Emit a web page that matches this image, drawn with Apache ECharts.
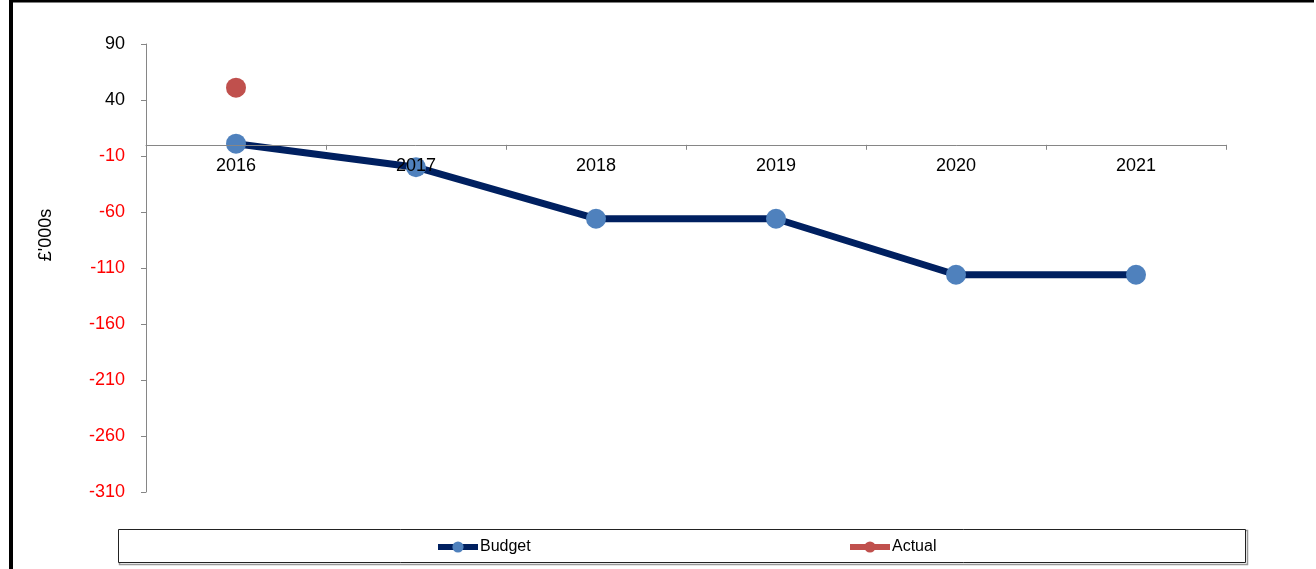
<!DOCTYPE html>
<html>
<head>
<meta charset="utf-8">
<script src="https://cdn.jsdelivr.net/npm/echarts@6/dist/echarts.min.js"></script>
<style>
html,body{margin:0;padding:0;background:#fff;}
#chart{width:1316px;height:569px;}
</style>
</head>
<body>
<div id="chart"></div>
<script>
var categories = ['2016', '2017', '2018', '2019', '2020', '2021'];
var budget = [1, -20, -66, -66, -116, -116];
var actual = [51, null, null, null, null, null];
var yMin = -310, yMax = 90, yStep = 50;
var yAxisTitle = "£'000s";

var FONT = "'Liberation Sans', Arial, sans-serif";
var GRID_TOP = 44, GRID_BOTTOM = 77, H = 569;
var gridH = H - GRID_TOP - GRID_BOTTOM;
var zeroOffset = (0 - yMin) / (yMax - yMin) * gridH;

var chart = echarts.init(document.getElementById('chart'), null, {renderer: 'canvas'});
chart.setOption({
  animation: false,
  backgroundColor: '#fff',
  grid: {left: 146, top: GRID_TOP, right: 90, bottom: GRID_BOTTOM, containLabel: false},
  xAxis: {
    type: 'category',
    data: categories,
    boundaryGap: true,
    position: 'bottom',
    offset: -zeroOffset,
    z: 5,
    axisLine: {onZero: false, lineStyle: {color: '#868686', width: 1}},
    axisTick: {show: true, interval: 0, length: 5, lineStyle: {color: '#868686'}},
    axisLabel: {margin: 12, color: '#000', fontSize: 18, fontFamily: FONT, interval: 0},
    splitLine: {show: false}
  },
  yAxis: {
    type: 'value',
    min: yMin, max: yMax, interval: yStep,
    axisLine: {show: true, onZero: false, lineStyle: {color: '#868686', width: 1}},
    axisTick: {show: true, length: 5, lineStyle: {color: '#868686'}},
    axisLabel: {
      margin: 21, fontSize: 18, fontFamily: FONT,
      color: function (v) { return Number(v) < 0 ? '#FF0000' : '#000'; }
    },
    splitLine: {show: false}
  },
  legend: [
    {data: ['Budget'], left: 435, top: 539, padding: 0, itemWidth: 40, itemHeight: 14, itemGap: 4,
     lineStyle: {width: 6}, textStyle: {fontSize: 16, fontFamily: FONT, color: '#000', padding: [0, 0, 0, -3]}},
    {data: ['Actual'], left: 847, top: 539, padding: 0, itemWidth: 40, itemHeight: 14, itemGap: 4,
     lineStyle: {width: 6}, textStyle: {fontSize: 16, fontFamily: FONT, color: '#000', padding: [0, 0, 0, -3]}}
  ],
  graphic: [
    {type: 'line', shape: {x1: 11, y1: 1, x2: 1314, y2: 1}, style: {stroke: '#000', lineWidth: 3}, silent: true},
    {type: 'line', shape: {x1: 11, y1: 0, x2: 11, y2: 569}, style: {stroke: '#000', lineWidth: 4}, silent: true},
    {type: 'rect', shape: {x: 119.5, y: 530.5, width: 1128, height: 34}, style: {fill: 'none', stroke: '#999', lineWidth: 1.5}, silent: true, z: -1},
    {type: 'rect', shape: {x: 118.5, y: 529.5, width: 1127, height: 33}, style: {fill: '#fff', stroke: '#222', lineWidth: 1}, silent: true, z: -1},
    {type: 'text', x: 46, y: 235, rotation: Math.PI / 2,
     style: {text: yAxisTitle, fontSize: 18, fontFamily: FONT, fill: '#000', align: 'center', verticalAlign: 'middle'}, silent: true}
  ],
  series: [
    {
      name: 'Budget', type: 'line', data: budget,
      symbol: 'circle', symbolSize: 20,
      lineStyle: {color: '#002060', width: 7},
      itemStyle: {color: '#4F81BD', borderColor: '#4F81BD', borderWidth: 0},
      z: 2
    },
    {
      name: 'Actual', type: 'line', data: actual,
      symbol: 'circle', symbolSize: 20, connectNulls: false,
      lineStyle: {color: '#C0504D', width: 7},
      itemStyle: {color: '#C0504D', borderWidth: 0},
      z: 2
    }
  ]
});
</script>
</body>
</html>
